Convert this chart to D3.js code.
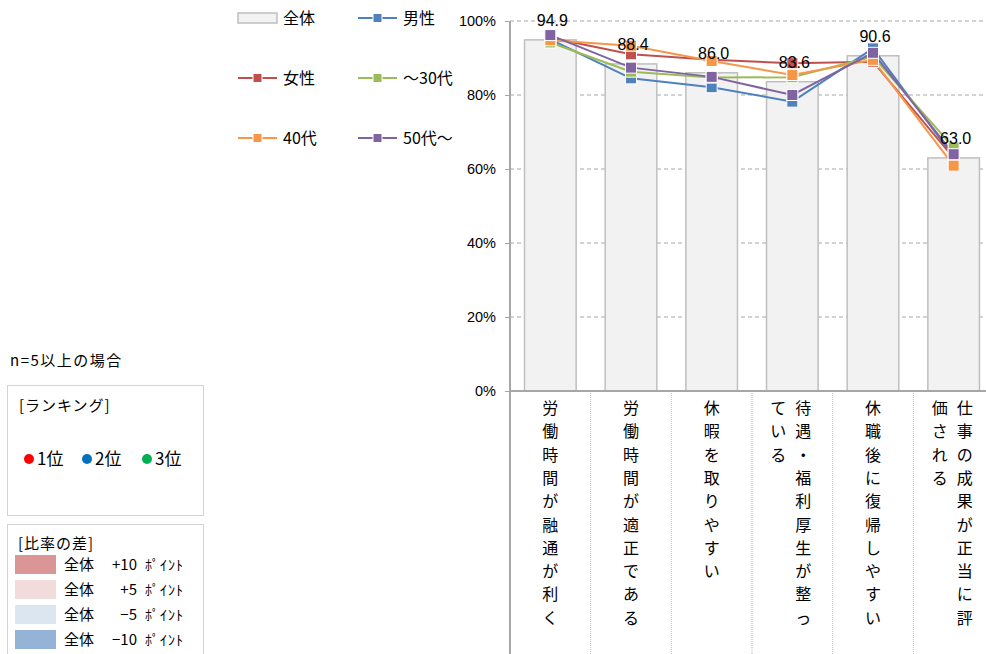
<!DOCTYPE html>
<html>
<head>
<meta charset="utf-8">
<script src="https://cdn.jsdelivr.net/npm/d3@7"></script>
<style>
  body { margin: 0; background: #fff; }
  svg { display: block; font-family: "Noto Sans CJK JP", "Liberation Sans", sans-serif; }
</style>
</head>
<body>
<svg id="canvas" width="986" height="654"></svg>
<script>
// categories (vertical labels, one entry per column, right column first)
const categories = ['c1', 'c2', 'c3', 'c4', 'c5', 'c6'];
const categoryLabels = [
  ['労働時間が融通が利く'],
  ['労働時間が適正である'],
  ['休暇を取りやすい'],
  ['待遇・福利厚生が整っ', 'ている'],
  ['休職後に復帰しやすい'],
  ['仕事の成果が正当に評', '価される']
];

// overall (bars)
const totalValues = [94.9, 88.4, 86.0, 83.6, 90.6, 63.0];

// line series
const seriesNames = ['男性', '女性', '～30代', '40代', '50代～'];
const seriesColors = ['#4f81bd', '#c0504d', '#9bbb59', '#f79646', '#8064a2'];
const maleValues = [95.0, 84.5, 82.1, 78.2, 92.6, 63.3];
const femaleValues = [95.5, 91.0, 89.5, 88.6, 89.0, 63.0];
const under30Values = [94.2, 86.3, 84.7, 84.8, 90.4, 65.8];
const age40Values = [94.8, 93.3, 89.2, 85.4, 89.5, 60.9];
const over50Values = [96.2, 87.4, 84.9, 80.0, 91.4, 64.0];
const seriesValues = [maleValues, femaleValues, under30Values, age40Values, over50Values];

const yTicks = [0, 20, 40, 60, 80, 100];

// ranking / difference legends
const rankLabels = ['1位', '2位', '3位'];
const rankColors = ['#ff0000', '#0070c0', '#00b050'];
const diffLabels = ['+10', '+5', '−5', '−10'];
const diffColors = ['#d99694', '#f2dcdb', '#dce6f1', '#95b3d7'];

let canvas = d3.select('#canvas');

const plotTop = 21, plotBottom = 391;
let x = d3.scaleBand().domain(categories).range([510, 994]).padding(0);
let y = d3.scaleLinear().domain([0, 100]).range([plotBottom, plotTop]);
const step = x.step();
const barW = step * 0.64;
const cx = (c) => x(c) + step / 2;

// gridlines
canvas.append('g')
  .selectAll('line')
  .data(yTicks.filter(d => d > 0))
  .enter()
  .append('line')
  .attr('x1', 510).attr('x2', 986)
  .attr('y1', d => y(d)).attr('y2', d => y(d))
  .attr('stroke', '#a6a6a6')
  .attr('stroke-dasharray', '4,3');

// y axis
let yAxis = d3.axisLeft(y).tickValues(yTicks).tickFormat(d => d + '%').tickSize(5).tickPadding(9);
let yg = canvas.append('g').attr('transform', 'translate(510,0)').call(yAxis);
yg.select('.domain').remove();
yg.selectAll('line').attr('stroke', '#a6a6a6');
yg.selectAll('text').attr('font-size', 14.5).attr('fill', '#000').attr('font-family', '"Liberation Sans", sans-serif');

// bars
canvas.append('g')
  .selectAll('rect')
  .data(totalValues)
  .enter()
  .append('rect')
  .attr('x', (d, i) => cx(categories[i]) - barW / 2)
  .attr('y', d => y(d))
  .attr('width', barW)
  .attr('height', d => y(0) - y(d))
  .attr('fill', '#f2f2f2')
  .attr('stroke', '#bfbfbf')
  .attr('stroke-width', 1.5);

// category separators below axis
canvas.append('g')
  .selectAll('line')
  .data(categories.slice(1))
  .enter()
  .append('line')
  .attr('x1', d => x(d)).attr('x2', d => x(d))
  .attr('y1', plotBottom).attr('y2', 654)
  .attr('stroke', '#bfbfbf')
  .attr('stroke-dasharray', '1,1');

// axes lines
canvas.append('line').attr('x1', 510).attr('x2', 986).attr('y1', plotBottom).attr('y2', plotBottom)
  .attr('stroke', '#a6a6a6').attr('stroke-width', 2);
canvas.append('line').attr('x1', 510).attr('x2', 510).attr('y1', plotTop).attr('y2', 654)
  .attr('stroke', '#a6a6a6').attr('stroke-width', 2);

// vertical category labels
categoryLabels.forEach((cols, i) => {
  const c = cx(categories[i]);
  const offsets = cols.length === 1 ? [0] : [11, -14];
  cols.forEach((txt, k) => {
    canvas.append('g')
      .selectAll('text')
      .data(Array.from(txt))
      .enter()
      .append('text')
      .attr('x', c + offsets[k])
      .attr('y', (ch, j) => 414 + j * 23.3)
      .attr('text-anchor', 'middle')
      .attr('font-size', 16)
      .attr('fill', '#000')
      .text(ch => ch);
  });
});

// lines
let line = d3.line().x((d, i) => cx(categories[i])).y(d => y(d));
seriesValues.forEach((vals, s) => {
  canvas.append('path')
    .datum(vals)
    .attr('d', line)
    .attr('fill', 'none')
    .attr('stroke', seriesColors[s])
    .attr('stroke-width', 2);
});
seriesValues.forEach((vals, s) => {
  canvas.append('g')
    .selectAll('rect')
    .data(vals)
    .enter()
    .append('rect')
    .attr('x', (d, i) => cx(categories[i]) - 5.5)
    .attr('y', d => y(d) - 5.5)
    .attr('width', 11).attr('height', 11)
    .attr('fill', seriesColors[s])
    .attr('stroke', '#fff')
    .attr('stroke-width', 1);
});

// bar value labels
canvas.append('g')
  .selectAll('text')
  .data(totalValues)
  .enter()
  .append('text')
  .attr('x', (d, i) => cx(categories[i]) + 2)
  .attr('y', d => y(d) - 14)
  .attr('text-anchor', 'middle')
  .attr('font-size', 16)
  .attr('font-family', '"Liberation Sans", sans-serif')
  .attr('fill', '#000')
  .text(d => d.toFixed(1));

// top legend
const legendItems = [{ name: '全体', bar: true }].concat(seriesNames.map((n, i) => ({ name: n, color: seriesColors[i] })));
legendItems.forEach((it, i) => {
  const lx = i % 2 === 0 ? 238 : 358;
  const ly = 18 + Math.floor(i / 2) * 60;
  const g = canvas.append('g');
  if (it.bar) {
    g.append('rect').attr('x', lx).attr('y', ly - 5).attr('width', 39).attr('height', 10)
      .attr('fill', '#f2f2f2').attr('stroke', '#bfbfbf').attr('stroke-width', 1.5);
  } else {
    g.append('line').attr('x1', lx).attr('x2', lx + 39).attr('y1', ly).attr('y2', ly)
      .attr('stroke', it.color).attr('stroke-width', 2);
    g.append('rect').attr('x', lx + 15).attr('y', ly - 4.5).attr('width', 9).attr('height', 9)
      .attr('fill', it.color).attr('stroke', '#fff');
  }
  g.append('text').attr('x', lx + 45).attr('y', ly + 6).attr('font-size', 16).attr('fill', '#000').text(it.name);
});

// left notes
canvas.append('text').attr('x', 10).attr('y', 366).attr('font-size', 15).attr('letter-spacing', 1.5).text('n=5以上の場合');

canvas.append('rect').attr('x', 7.5).attr('y', 385.5).attr('width', 196).attr('height', 130)
  .attr('fill', 'none').attr('stroke', '#a6a6a6').attr('stroke-dasharray', '1,1');
canvas.append('text').attr('x', 19).attr('y', 411).attr('font-size', 15).attr('letter-spacing', 1).text('[ランキング]');
rankLabels.forEach((r, i) => {
  const dx = [29, 87, 147][i];
  canvas.append('circle').attr('cx', dx).attr('cy', 459).attr('r', 5).attr('fill', rankColors[i]);
  canvas.append('text').attr('x', dx + 8).attr('y', 465).attr('font-size', 17).text(r);
});

canvas.append('rect').attr('x', 7.5).attr('y', 524.5).attr('width', 196).attr('height', 140)
  .attr('fill', 'none').attr('stroke', '#a6a6a6').attr('stroke-dasharray', '1,1');
canvas.append('text').attr('x', 18).attr('y', 549).attr('font-size', 15).attr('letter-spacing', 1).text('[比率の差]');
diffLabels.forEach((dl, i) => {
  const sy = 555 + i * 25;
  canvas.append('rect').attr('x', 15).attr('y', sy).attr('width', 41).attr('height', 19).attr('fill', diffColors[i]);
  canvas.append('text').attr('x', 64).attr('y', sy + 15).attr('font-size', 15).text('全体');
  canvas.append('text').attr('x', 137).attr('y', sy + 15).attr('font-size', 15).attr('text-anchor', 'end').text(dl);
  canvas.append('text').attr('x', 145).attr('y', sy + 15).attr('font-size', 14).attr('letter-spacing', 1).text('ﾎﾟｲﾝﾄ');
});
</script>
</body>
</html>
